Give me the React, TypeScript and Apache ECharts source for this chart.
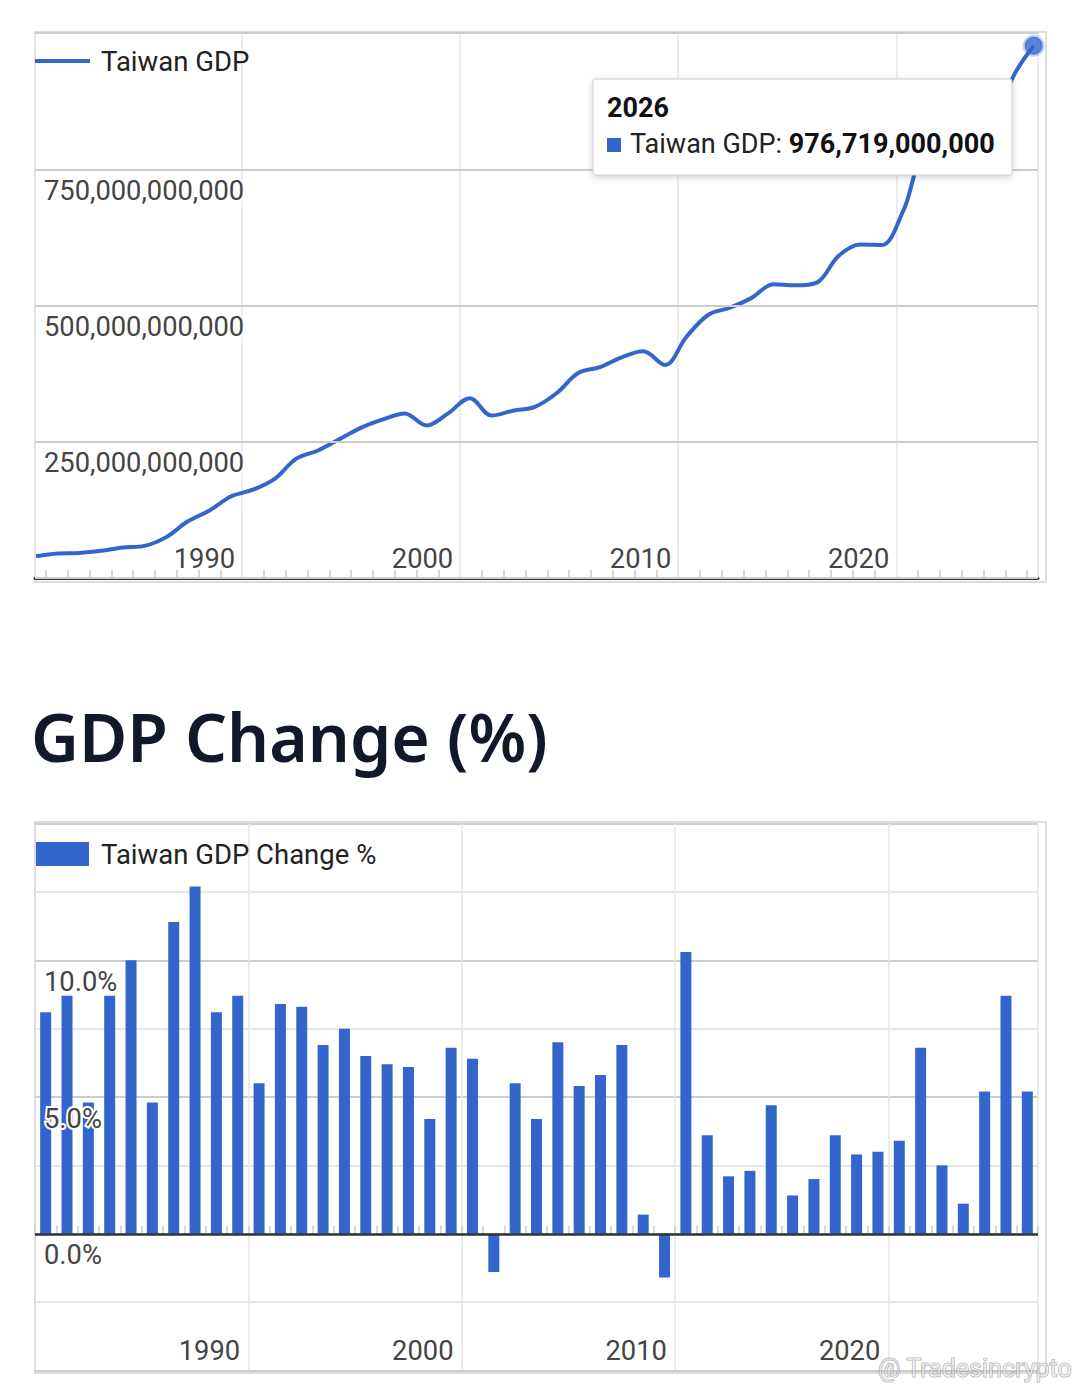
import React, { useEffect, useRef } from "react";
import * as echarts from "echarts";

const years: number[] = [
  1980, 1981, 1982, 1983, 1984, 1985, 1986, 1987, 1988, 1989,
  1990, 1991, 1992, 1993, 1994, 1995, 1996, 1997, 1998, 1999,
  2000, 2001, 2002, 2003, 2004, 2005, 2006, 2007, 2008, 2009,
  2010, 2011, 2012, 2013, 2014, 2015, 2016, 2017, 2018, 2019,
  2020, 2021, 2022, 2023, 2024, 2025, 2026,
];

// Taiwan GDP, billions of USD
const gdpBillions: number[] = [
  40, 45, 46, 50, 56, 59, 75, 104, 124, 150,
  162, 182, 219, 234, 255, 276, 291, 302, 280, 302,
  330, 298, 307, 314, 339, 376, 387, 405, 416, 391,
  443, 483, 496, 514, 539, 537, 542, 591, 612, 611,
  675, 772, 762, 757, 795, 915, 976.719,
];

// Taiwan GDP change, %
const growthPct: number[] = [
  8.1, 8.7, 4.8, 8.7, 10.0, 4.8, 11.4, 12.7, 8.1, 8.7,
  5.5, 8.4, 8.3, 6.9, 7.5, 6.5, 6.2, 6.1, 4.2, 6.8,
  6.4, -1.4, 5.5, 4.2, 7.0, 5.4, 5.8, 6.9, 0.7, -1.6,
  10.3, 3.6, 2.1, 2.3, 4.7, 1.4, 2.0, 3.6, 2.9, 3.0,
  3.4, 6.8, 2.5, 1.1, 5.2, 8.7, 5.2,
];

const gdpTickLabels: number[] = [250e9, 500e9, 750e9];
const growthTickLabels: number[] = [0, 5, 10];
const decadeLabels: string[] = ["1990", "2000", "2010", "2020"];

const BLUE = "#3366cc";
const FONT = "Roboto";
const FS = 27.3;
const LFS = 27.5;
const TFS = 27;

const fmt = (n: number) =>
  Math.round(n)
    .toString()
    .replace(/\B(?=(\d{3})+(?!\d))/g, ",");

export default function App() {
  const ref = useRef<HTMLDivElement>(null);

  useEffect(() => {
    document.body.style.margin = "0";
    if (!ref.current) return;
    const chart = echarts.init(ref.current, undefined, { renderer: "svg" });

    const gdpData = years.map((y, i) => [y, Math.round(gdpBillions[i] * 1e9)]);
    const last = years.length - 1;
    const yearCats = years.map(String);

    const yLabelBase = {
      inside: true,
      margin: 9,
      verticalAlign: "top",
      padding: [8, 0, 0, 0],
      fontSize: FS,
      color: "#444",
      fontFamily: FONT,
      textBorderColor: "#fff",
      textBorderWidth: 4,
    };

    const TZ = 100;

    const option: any = {
      animation: false,
      textStyle: { fontFamily: FONT },
      title: {
        text: "GDP Change (%)",
        left: 31,
        top: 703,
        padding: 0,
        textStyle: {
          fontFamily: '"Noto Sans"',
          fontSize: 66,
          fontWeight: 600,
          color: "#111827",
        },
      },
      legend: [
        {
          data: [{ name: "Taiwan GDP", icon: "rect" }],
          left: 35,
          top: 47,
          padding: 0,
          itemWidth: 55,
          itemHeight: 4,
          selectedMode: false,
          itemStyle: { color: BLUE },
          textStyle: { fontSize: LFS, color: "#222", fontFamily: FONT, padding: [0, 0, 0, 6] },
        },
        {
          data: [{ name: "Taiwan GDP Change %", icon: "rect" }],
          left: 36,
          top: 840,
          padding: 0,
          itemWidth: 53,
          itemHeight: 24,
          selectedMode: false,
          textStyle: { fontSize: LFS, color: "#222", fontFamily: FONT, padding: [0, 0, 0, 7] },
        },
      ],
      grid: [
        { left: 35, top: 33, width: 1003, height: 545 },
        { left: 35, top: 823.5, width: 1003, height: 547 },
      ],
      xAxis: [
        {
          type: "value",
          gridIndex: 0,
          position: "bottom",
          min: 1979.95,
          max: 2026.2,
          show: false,
        },
        {
          type: "value",
          gridIndex: 0,
          position: "bottom",
          min: 1980.5,
          max: 2026.5,
          axisLine: { show: true, onZero: false, lineStyle: { color: "#333", width: 3 } },
          axisTick: { show: false, inside: true },
          minorTick: { show: true, splitNumber: 10, length: 8, lineStyle: { color: "#ccc", width: 1.5 } },
          splitLine: { show: true, lineStyle: { color: "#e6e6e6", width: 1.5 } },
          minorSplitLine: { show: false },
          axisLabel: {
            inside: true,
            margin: 6,
            align: "right",
            padding: [0, 7, 0, 0],
            fontSize: FS,
            color: "#444",
            fontFamily: FONT,
            formatter: (v: number) => (v % 10 === 0 ? String(v) : ""),
          },
        },
        {
          type: "category",
          gridIndex: 1,
          position: "bottom",
          data: yearCats,
          boundaryGap: true,
          axisLine: { show: false },
          axisTick: { show: true, inside: true, length: 8, interval: 0, lineStyle: { color: "#ccc", width: 1.5 } },
          splitLine: {
            show: true,
            interval: (_i: number, v: string) => decadeLabels.includes(v),
            lineStyle: { color: "#e6e6e6", width: 1.5 },
          },
          axisLabel: {
            inside: true,
            interval: (_i: number, v: string) => decadeLabels.includes(v),
            margin: 6,
            align: "right",
            padding: [0, 19, 0, 0],
            fontSize: FS,
            color: "#444",
            fontFamily: FONT,
          },
        },
      ],
      yAxis: [
        {
          type: "value",
          gridIndex: 0,
          position: "left",
          min: 0,
          max: 1e12,
          interval: 250e9,
          z: 10,
          axisLine: { show: false },
          axisTick: { show: false },
          splitLine: { show: true, lineStyle: { color: "#cccccc", width: 2 } },
          axisLabel: {
            ...yLabelBase,
            formatter: (v: number) => (gdpTickLabels.includes(v) ? fmt(v) : ""),
          },
        },
        {
          type: "value",
          gridIndex: 1,
          position: "left",
          min: -5,
          max: 15,
          interval: 2.5,
          axisLine: { show: false },
          axisTick: { show: false },
          axisLabel: { show: false },
          splitLine: { show: true, lineStyle: { color: ["#cccccc", "#e6e6e6"], width: 2 } },
        },
        {
          type: "value",
          gridIndex: 1,
          position: "left",
          min: -5,
          max: 15,
          interval: 2.5,
          z: 10,
          axisLine: { show: false },
          axisTick: { show: false },
          splitLine: { show: false },
          axisLabel: {
            ...yLabelBase,
            formatter: (v: number) => (growthTickLabels.includes(v) ? v.toFixed(1) + "%" : ""),
          },
        },
      ],
      series: [
        {
          name: "Taiwan GDP",
          type: "line",
          xAxisIndex: 0,
          yAxisIndex: 0,
          data: gdpData,
          smooth: 0.35,
          symbol: "none",
          lineStyle: { color: BLUE, width: 4 },
          itemStyle: { color: BLUE },
          z: 3,
        },
        {
          type: "scatter",
          xAxisIndex: 0,
          yAxisIndex: 0,
          data: [gdpData[last]],
          symbolSize: 18,
          itemStyle: { color: BLUE, borderColor: "rgba(51,102,204,0.35)", borderWidth: 4 },
          silent: true,
          z: 4,
        },
        {
          name: "Taiwan GDP Change %",
          type: "bar",
          xAxisIndex: 2,
          yAxisIndex: 1,
          data: growthPct,
          barWidth: 11,
          itemStyle: { color: BLUE },
          markLine: {
            silent: true,
            symbol: "none",
            label: { show: false },
            lineStyle: { color: "#333", width: 2.5, type: "solid" },
            data: [{ yAxis: 0 }],
          },
        },
      ],
      graphic: [
        {
          type: "rect",
          z: 0,
          shape: { x: 35, y: 32, width: 1011, height: 550 },
          style: { fill: "none", stroke: "#dddddd", lineWidth: 2 },
          silent: true,
        },
        {
          type: "rect",
          z: 0,
          shape: { x: 35, y: 822, width: 1011, height: 551 },
          style: { fill: "none", stroke: "#dddddd", lineWidth: 2 },
          silent: true,
        },
        {
          type: "rect",
          z: TZ,
          shape: { x: 593, y: 79, width: 419, height: 96, r: 2 },
          style: {
            fill: "#ffffff",
            stroke: "#cccccc",
            lineWidth: 1,
            shadowBlur: 6,
            shadowColor: "rgba(0,0,0,0.18)",
            shadowOffsetY: 2,
          },
        },
        {
          type: "text",
          z: TZ + 1,
          x: 607,
          y: 108,
          style: {
            text: String(years[last]),
            fontFamily: FONT,
            fontSize: TFS,
            fontWeight: "bold",
            fill: "#111",
            verticalAlign: "middle",
          },
        },
        {
          type: "rect",
          z: TZ + 1,
          shape: { x: 607, y: 138, width: 14, height: 14 },
          style: { fill: BLUE },
        },
        {
          type: "text",
          z: TZ + 1,
          x: 630,
          y: 144,
          style: {
            text: "{n|Taiwan GDP: }{b|" + fmt(gdpData[last][1]) + "}",
            verticalAlign: "middle",
            rich: {
              n: { fontFamily: FONT, fontSize: TFS, fill: "#222" },
              b: { fontFamily: FONT, fontSize: TFS, fontWeight: "bold", fill: "#111" },
            },
          },
        },
        {
          type: "text",
          z: TZ + 2,
          x: 878,
          y: 1368,
          silent: true,
          style: {
            text: "@ Tradesincrypto",
            fontFamily: FONT,
            fontSize: 25,
            fill: "rgba(255,255,255,0.55)",
            stroke: "rgba(110,110,110,0.55)",
            lineWidth: 1.2,
            verticalAlign: "middle",
          },
        },
      ],
    };

    chart.setOption(option);
    return () => chart.dispose();
  }, []);

  return <div ref={ref} style={{ width: 1080, height: 1393 }} />;
}
